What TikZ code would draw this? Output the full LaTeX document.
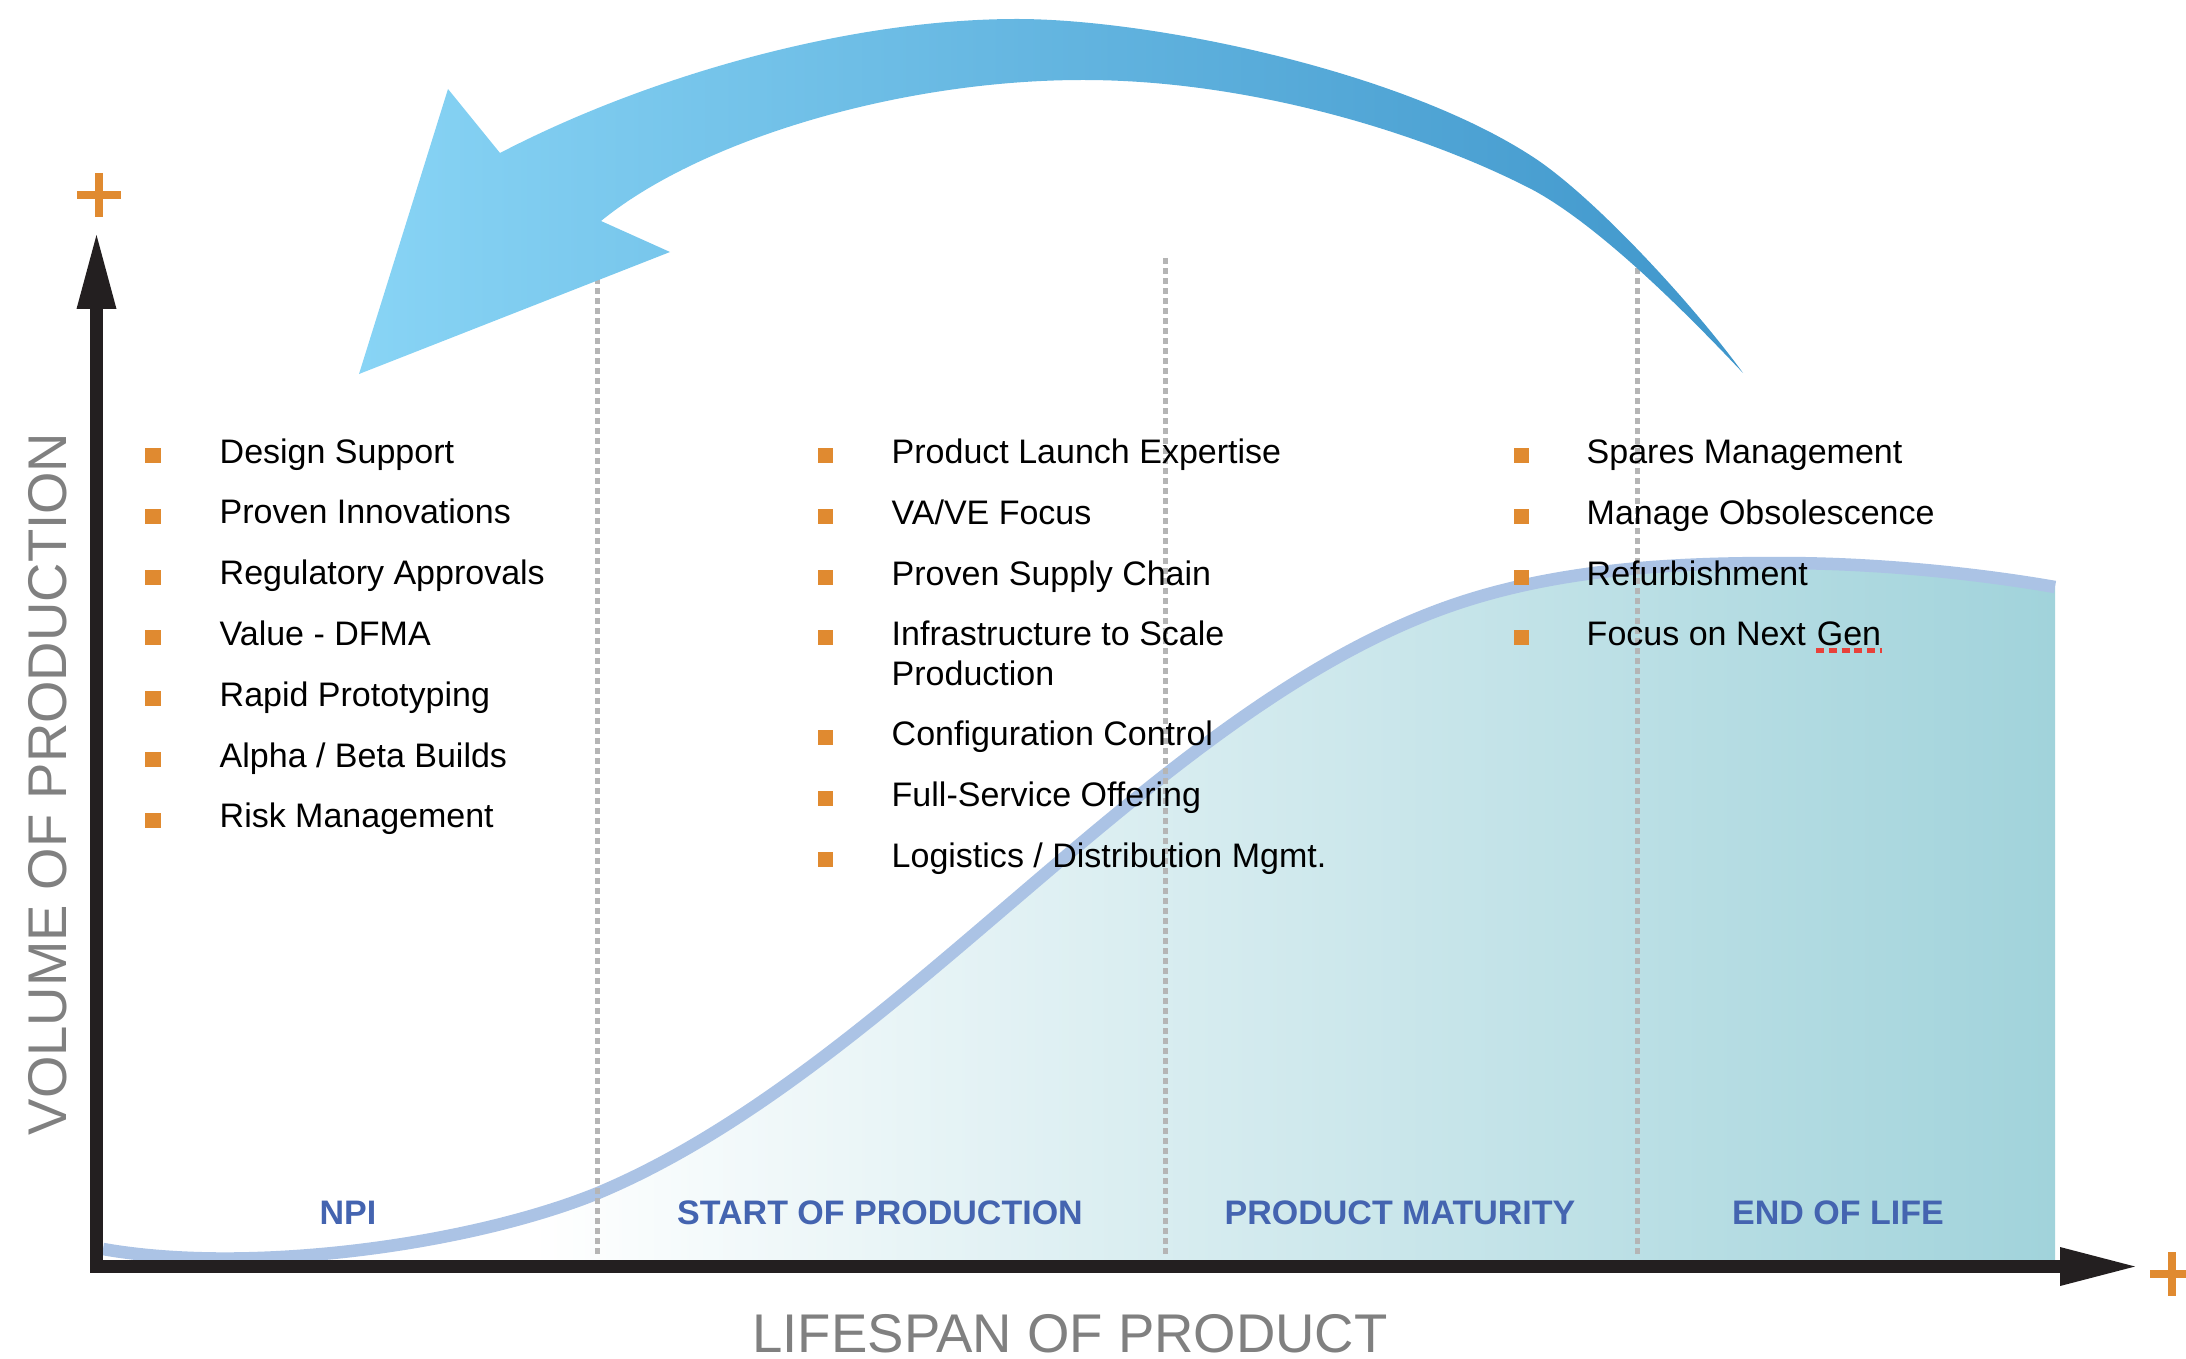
\documentclass[tikz,border=0pt]{standalone}
\usepackage{fontspec}
\setmainfont{Liberation Sans}
\usetikzlibrary{calc}
\definecolor{axisblack}{HTML}{231F20}
\definecolor{orangeb}{HTML}{E08A30}
\definecolor{phaseblue}{HTML}{4464B0}
\definecolor{curveblue}{HTML}{ABC3E5}
\definecolor{areateal}{HTML}{A1D3DB}
\definecolor{arrowlight}{HTML}{88D4F5}
\definecolor{arrowdark}{HTML}{3F96CB}
\definecolor{titlegray}{HTML}{808080}
\definecolor{dotgray}{HTML}{B5B5B5}
\definecolor{spellred}{HTML}{E8413A}
\pgfdeclarehorizontalshading{areafill}{100bp}{color(0bp)=(white); color(36bp)=(white); color(75bp)=(areateal); color(100bp)=(areateal)}
\begin{document}
\begin{tikzpicture}[x=0.01cm, y=-0.01cm,
  item/.style={anchor=base west, inner sep=0, font=\fontsize{9.67pt}{11.6pt}\selectfont, text=black},
  bul/.style={fill=orangeb, minimum size=0.15cm, inner sep=0, draw=none},
  phase/.style={anchor=base, inner sep=0, font=\fontsize{9.67pt}{11.6pt}\selectfont\bfseries, text=phaseblue},
  axtitle/.style={anchor=base, inner sep=0, text depth=0pt, font=\fontsize{15.5pt}{18pt}\selectfont, text=titlegray},
  divider/.style={dotgray, line width=0.05cm, dash pattern=on 0.06cm off 0.04cm},
  plusmark/.style={orangeb, line width=0.075cm},
  axisline/.style={axisblack, line width=0.13cm},
  spell/.style={spellred, line width=0.05cm, dash pattern=on 0.08cm off 0.047cm}
]
\useasboundingbox (0,0) rectangle (2186,1358);

% area under the production curve
\shade[shading=areafill] (103,1266.5) -- (103,1249)
  .. controls (250,1275) and (470,1245) .. (598,1193)
  .. controls (898,1067) and (1150,711) .. (1450,606)
  .. controls (1560,567.5) and (1680,563) .. (1779,563)
  .. controls (1880,563) and (1980,574) .. (2055,587)
  -- (2055,1266.5) -- cycle;
% production curve
\draw[curveblue, line width=0.125cm] (103,1249)
  .. controls (250,1275) and (470,1245) .. (598,1193)
  .. controls (898,1067) and (1150,711) .. (1450,606)
  .. controls (1560,567.5) and (1680,563) .. (1779,563)
  .. controls (1880,563) and (1980,574) .. (2055,587);

% phase dividers
\coordinate (d1t) at (597,258); \coordinate (d1b) at (597,1256);
\coordinate (d2t) at (1165,258); \coordinate (d2b) at (1165,1256);
\coordinate (d3t) at (1637,258); \coordinate (d3b) at (1637,1256);
\draw[divider] (d1t) -- (d1b);
\draw[divider] (d2t) -- (d2b);
\draw[divider] (d3t) -- (d3b);

% axes
\coordinate (O) at (96.5,1266.5);
\coordinate (ytip) at (96.5,235);
\coordinate (ybase) at (96.5,308);
\coordinate (xtip) at (2135,1266.5);
\coordinate (xbase) at (2061,1266.5);
\draw[axisline] (ybase) -- (96.5,1273);
\draw[axisline] (90,1266.5) -- (xbase);
\fill[axisblack] (ytip) -- ($(ybase)+(20,1)$) -- ($(ybase)+(-20,1)$) -- cycle;
\fill[axisblack] (xtip) -- ($(xbase)+(-1,-19.5)$) -- ($(xbase)+(-1,19.5)$) -- cycle;

% plus signs
\coordinate (py) at (99,195);
\coordinate (px) at (2172,1274);
\draw[plusmark] ($(py)+(-22,0)$) -- ($(py)+(22,0)$) ($(py)+(0,-22)$) -- ($(py)+(0,22)$);
\draw[plusmark] ($(px)+(-22,0)$) -- ($(px)+(22,0)$) ($(px)+(0,-22)$) -- ($(px)+(0,22)$);

% big curved arrow
\shade[left color=arrowlight, right color=arrowdark]
  (601,221) -- (670,252) -- (359,374) -- (448,89) -- (500,153)
  .. controls (650,75) and (850,19) .. (1017,19)
  .. controls (1150,19) and (1400,70) .. (1533,157)
  .. controls (1593,196) and (1692,303) .. (1743,373)
  .. controls (1693,320) and (1603,228) .. (1533,190)
  .. controls (1423,133) and (1250,80) .. (1083,80)
  .. controls (900,80) and (700,140) .. (601,221)
  -- cycle;

% axis titles
\node[axtitle] (xtitle) at (1070,1352) {LIFESPAN OF PRODUCT};
\node[axtitle, rotate=90] (ytitle) at (66,784) {VOLUME OF PRODUCTION};

% phase labels
\node[phase] (npi) at (348,1224) {NPI};
\node[phase] (sop) at (880,1224) {START OF PRODUCTION};
\node[phase] (pm) at (1400,1224) {PRODUCT MATURITY};
\node[phase] (eol) at (1838,1224) {END OF LIFE};

% left column
\foreach \t [count=\i] in {Design Support, Proven Innovations, Regulatory Approvals, Value - DFMA, Rapid Prototyping, Alpha / Beta Builds, Risk Management} {
  \node[bul] (lb\i) at (153,{455.5+60.8*(\i-1)}) {};
  \node[item] (lt\i) at (219,{463+60.8*(\i-1)}) {\t};
}

% middle column
\node[bul] (mb1) at (825,455.5) {};
\node[item] (mt1) at (891,463) {Product Launch Expertise};
\node[bul] (mb2) at (825,516.5) {};
\node[item] (mt2) at (891,524) {VA/VE Focus};
\node[bul] (mb3) at (825,577.5) {};
\node[item] (mt3) at (891,585) {Proven Supply Chain};
\node[bul] (mb4) at (825,637.5) {};
\node[item] (mt4) at (891,645) {Infrastructure to Scale};
\node[item] (mt4b) at (891,685) {Production};
\node[bul] (mb5) at (825,737.5) {};
\node[item] (mt5) at (891,745) {Configuration Control};
\node[bul] (mb6) at (825,798.5) {};
\node[item] (mt6) at (891,806) {Full-Service Offering};
\node[bul] (mb7) at (825,859.5) {};
\node[item] (mt7) at (891,867) {Logistics / Distribution Mgmt.};

% right column
\node[bul] (rb1) at (1521,455.5) {};
\node[item] (rt1) at (1586,463) {Spares Management};
\node[bul] (rb2) at (1521,516.5) {};
\node[item] (rt2) at (1586,524) {Manage Obsolescence};
\node[bul] (rb3) at (1521,577.5) {};
\node[item] (rt3) at (1586,585) {Refurbishment};
\node[bul] (rb4) at (1521,637.5) {};
\node[item] (rt4) at (1586,645) {Focus on Next};
\node[item] (gen) at ([xshift=2.69pt]rt4.base east) {Gen};
\draw[spell] ([yshift=-1.6pt]gen.base west) -- ([yshift=-1.6pt]gen.base east);
\end{tikzpicture}
\end{document}
